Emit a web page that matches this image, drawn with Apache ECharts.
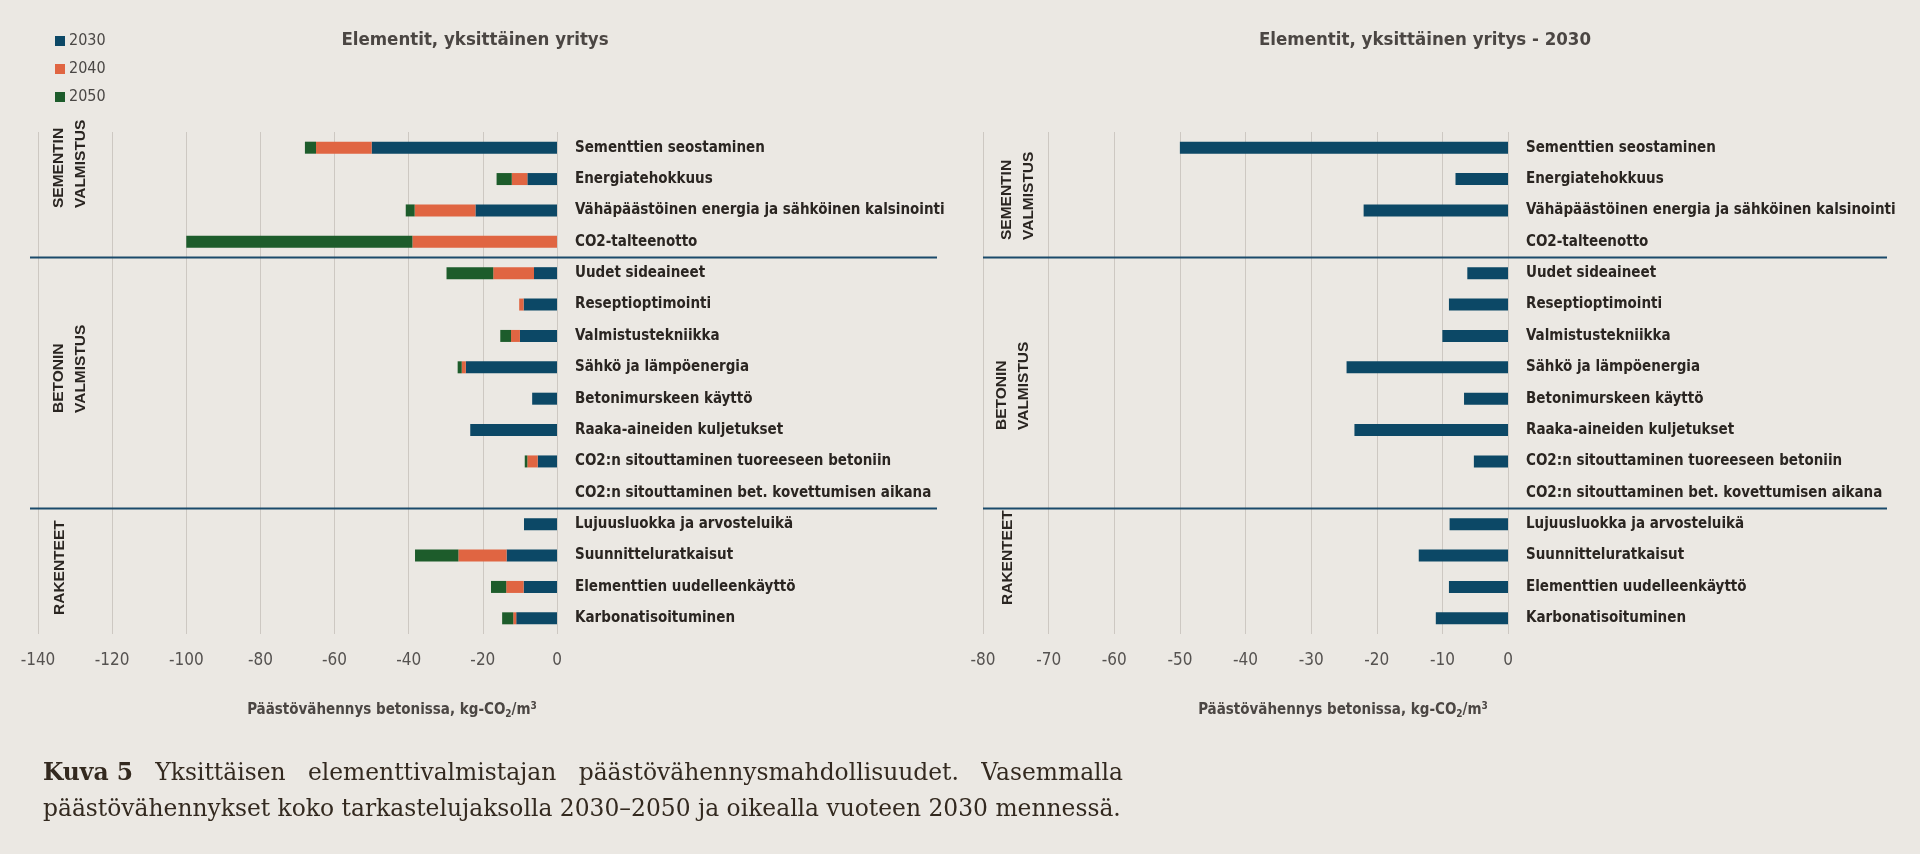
<!DOCTYPE html>
<html><head><meta charset="utf-8">
<script src="https://cdn.jsdelivr.net/npm/echarts/dist/echarts.min.js"></script>
<style>html,body{margin:0;padding:0;background:#ebe8e3;}#c{width:1920px;height:854px;}</style>
</head><body><div id="c"></div>
<script>
// ---------- DATA ----------
const categories = [
  'Sementtien seostaminen',
  'Energiatehokkuus',
  'Vähäpäästöinen energia ja sähköinen kalsinointi',
  'CO2-talteenotto',
  'Uudet sideaineet',
  'Reseptioptimointi',
  'Valmistustekniikka',
  'Sähkö ja lämpöenergia',
  'Betonimurskeen käyttö',
  'Raaka-aineiden kuljetukset',
  'CO2:n sitouttaminen tuoreeseen betoniin',
  'CO2:n sitouttaminen bet. kovettumisen aikana',
  'Lujuusluokka ja arvosteluikä',
  'Suunnitteluratkaisut',
  'Elementtien uudelleenkäyttö',
  'Karbonatisoituminen'
];
const seriesNames = ['2030', '2040', '2050'];
const v2030 = [-50, -8, -22, 0, -6.2, -9, -10, -24.6, -6.7, -23.4, -5.2, 0, -8.9, -13.6, -9, -11];
const v2040 = [-15, -4.2, -16.4, -39, -11, -1.2, -2.4, -1.1, 0, 0, -2.8, 0, 0, -13, -4.7, -0.8];
const v2050 = [-3, -4.1, -2.4, -61, -12.6, 0, -2.9, -1.1, 0, 0, -0.7, 0, 0, -11.7, -4.1, -3];
const leftAxisRange = [-140, 0, 20];   // min, max, interval
const rightAxisRange = [-80, 0, 10];
const groups = [['SEMENTIN', 'VALMISTUS'], ['BETONIN', 'VALMISTUS'], ['RAKENTEET']];
const groupBreaks = [4, 12]; // separator drawn before these category indices
const titles = ['Elementit, yksittäinen yritys', 'Elementit, yksittäinen yritys - 2030'];
const axisTitle = ['Päästövähennys betonissa, kg-CO', '2', '/m', '3'];
const captionBold = 'Kuva 5';
const captionLine1 = 'Yksittäisen elementtivalmistajan päästövähennysmahdollisuudet. Vasemmalla';
const captionLine2 = 'päästövähennykset koko tarkastelujaksolla 2030–2050 ja oikealla vuoteen 2030 mennessä.';

// ---------- STYLE ----------
const NARROW = "'Liberation Sans Narrow', 'Arial Narrow', 'DejaVu Sans Condensed', sans-serif";
const SANS = "'Liberation Sans', Arial, sans-serif";
const SERIF = "'DejaVu Serif', serif";
const C_BLUE = '#0c4866', C_ORANGE = '#e06542', C_GREEN = '#1d5c2b';
const BG = '#ebe8e3';

const chart = echarts.init(document.getElementById('c'), null, {renderer: 'canvas'});

function xAxisFor(gi, r) {
  return {
    type: 'value', gridIndex: gi, min: r[0], max: r[1], interval: r[2],
    axisLine: {show: false}, axisTick: {show: false},
    splitLine: {show: true, lineStyle: {color: '#cdc8c2', width: 1}},
    axisLabel: {margin: 18, fontFamily: NARROW, fontSize: 17, color: '#555250'}
  };
}
function yAxisFor(gi) {
  return {
    type: 'category', gridIndex: gi, data: categories, inverse: true, position: 'right',
    axisLine: {show: false}, axisTick: {show: false}, splitLine: {show: false},
    axisLabel: {margin: 18, align: 'left', fontFamily: NARROW, fontWeight: 'bold', fontSize: 15, color: '#2a2521'}
  };
}
const barCommon = {type: 'bar', barWidth: 12, emphasis: {disabled: true}, animation: false};

chart.setOption({
  backgroundColor: BG,
  animation: false,
  legend: {
    orient: 'vertical', left: 50, top: 27, itemWidth: 10, itemHeight: 10, itemGap: 10,
    icon: 'rect', data: seriesNames, selectedMode: false,
    textStyle: {fontFamily: NARROW, fontSize: 16, color: '#4a4745', lineHeight: 18, padding: [0, 0, 0, -1]}
  },
  grid: [
    {left: 38, right: 1920 - 557, top: 132, bottom: 220, containLabel: false, outerBoundsMode: 'none'},
    {left: 983, right: 1920 - 1508, top: 132, bottom: 220, containLabel: false, outerBoundsMode: 'none'}
  ],
  xAxis: [xAxisFor(0, leftAxisRange), xAxisFor(1, rightAxisRange)],
  yAxis: [yAxisFor(0), yAxisFor(1)],
  series: [
    Object.assign({}, barCommon, {name: seriesNames[0], stack: 'L', xAxisIndex: 0, yAxisIndex: 0, data: v2030, itemStyle: {color: C_BLUE}}),
    Object.assign({}, barCommon, {name: seriesNames[1], stack: 'L', xAxisIndex: 0, yAxisIndex: 0, data: v2040, itemStyle: {color: C_ORANGE}}),
    Object.assign({}, barCommon, {name: seriesNames[2], stack: 'L', xAxisIndex: 0, yAxisIndex: 0, data: v2050, itemStyle: {color: C_GREEN}}),
    Object.assign({}, barCommon, {name: seriesNames[0], xAxisIndex: 1, yAxisIndex: 1, data: v2030, itemStyle: {color: C_BLUE}})
  ]
});

// ---------- annotations ----------
const g = [];
// titles
const titleX = [475, 1425];
titles.forEach((t, i) => g.push({type: 'text', x: titleX[i], y: 40, z: 10,
  style: {text: t, align: 'center', verticalAlign: 'middle', fontFamily: NARROW, fontWeight: 'bold', fontSize: 18.5, fill: '#4b4643'}}));
// axis titles
const axisTitleX = [392, 1343];
axisTitleX.forEach(x => g.push({type: 'text', x: x, y: 710, z: 10,
  style: {
    text: '{a|' + axisTitle[0] + '}{s|' + axisTitle[1] + '}{a|' + axisTitle[2] + '}{p|' + axisTitle[3] + '}',
    align: 'center', verticalAlign: 'middle',
    rich: {
      a: {fontFamily: NARROW, fontWeight: 'bold', fontSize: 15, fill: '#4b4643', lineHeight: 24, verticalAlign: 'middle'},
      s: {fontFamily: NARROW, fontWeight: 'bold', fontSize: 10, fill: '#4b4643', lineHeight: 24, verticalAlign: 'bottom', padding: [0, 0, 3, 0]},
      p: {fontFamily: NARROW, fontWeight: 'bold', fontSize: 10, fill: '#4b4643', lineHeight: 24, verticalAlign: 'top', padding: [3, 0, 0, 0]}
    }
  }}));
// separator lines, positioned from the category scale
const sepX = [[30, 937], [983, 1887]];
[0, 1].forEach(gi => {
  groupBreaks.forEach(b => {
    const y1 = chart.convertToPixel({yAxisIndex: gi}, categories[b - 1]);
    const y2 = chart.convertToPixel({yAxisIndex: gi}, categories[b]);
    const y = (y1 + y2) / 2;
    g.push({type: 'line', z: 20, shape: {x1: sepX[gi][0], y1: y, x2: sepX[gi][1], y2: y},
      style: {stroke: '#1b4a6b', lineWidth: 2}});
  });
});
// group labels (rotated)
const groupPos = [
  [{x: 59, y: 208}, {x: 59, y: 413}, {x: 60, y: 615}],
  [{x: 1007, y: 240}, {x: 1002, y: 430}, {x: 1008, y: 605}]
];
[0, 1].forEach(gi => {
  groups.forEach((lines, k) => {
    lines.forEach((ln, j) => {
      g.push({type: 'text', x: groupPos[gi][k].x + j * 22, y: groupPos[gi][k].y, rotation: Math.PI / 2, z: 10,
        style: {text: ln, align: 'left', verticalAlign: 'middle', fontFamily: SANS, fontWeight: 'bold', fontSize: 15.5, fill: '#2a2521'}});
    });
  });
});
// caption, line 1 justified
const ctx = document.createElement('canvas').getContext('2d');
const capSize = 23.4;
const capLeft = 43, capRight = 1123;
ctx.font = 'bold ' + capSize + 'px ' + SERIF;
const wBold = ctx.measureText(captionBold).width;
ctx.font = capSize + 'px ' + SERIF;
const words = captionLine1.split(' ');
const wWords = words.map(w => ctx.measureText(w).width);
const totalW = wBold + wWords.reduce((a, b) => a + b, 0);
const gap = (capRight - capLeft - totalW) / words.length;
g.push({type: 'text', x: capLeft, y: 774, z: 10,
  style: {text: captionBold, align: 'left', verticalAlign: 'middle', fontFamily: SERIF, fontWeight: 'bold', fontSize: capSize, fill: '#33291f'}});
let cx = capLeft + wBold + gap;
words.forEach((w, i) => {
  g.push({type: 'text', x: cx, y: 774, z: 10,
    style: {text: w, align: 'left', verticalAlign: 'middle', fontFamily: SERIF, fontSize: capSize, fill: '#33291f'}});
  cx += wWords[i] + gap;
});
g.push({type: 'text', x: capLeft, y: 810, z: 10,
  style: {text: captionLine2, align: 'left', verticalAlign: 'middle', fontFamily: SERIF, fontSize: capSize, fill: '#33291f'}});

chart.setOption({graphic: g});
</script>
</body></html>
